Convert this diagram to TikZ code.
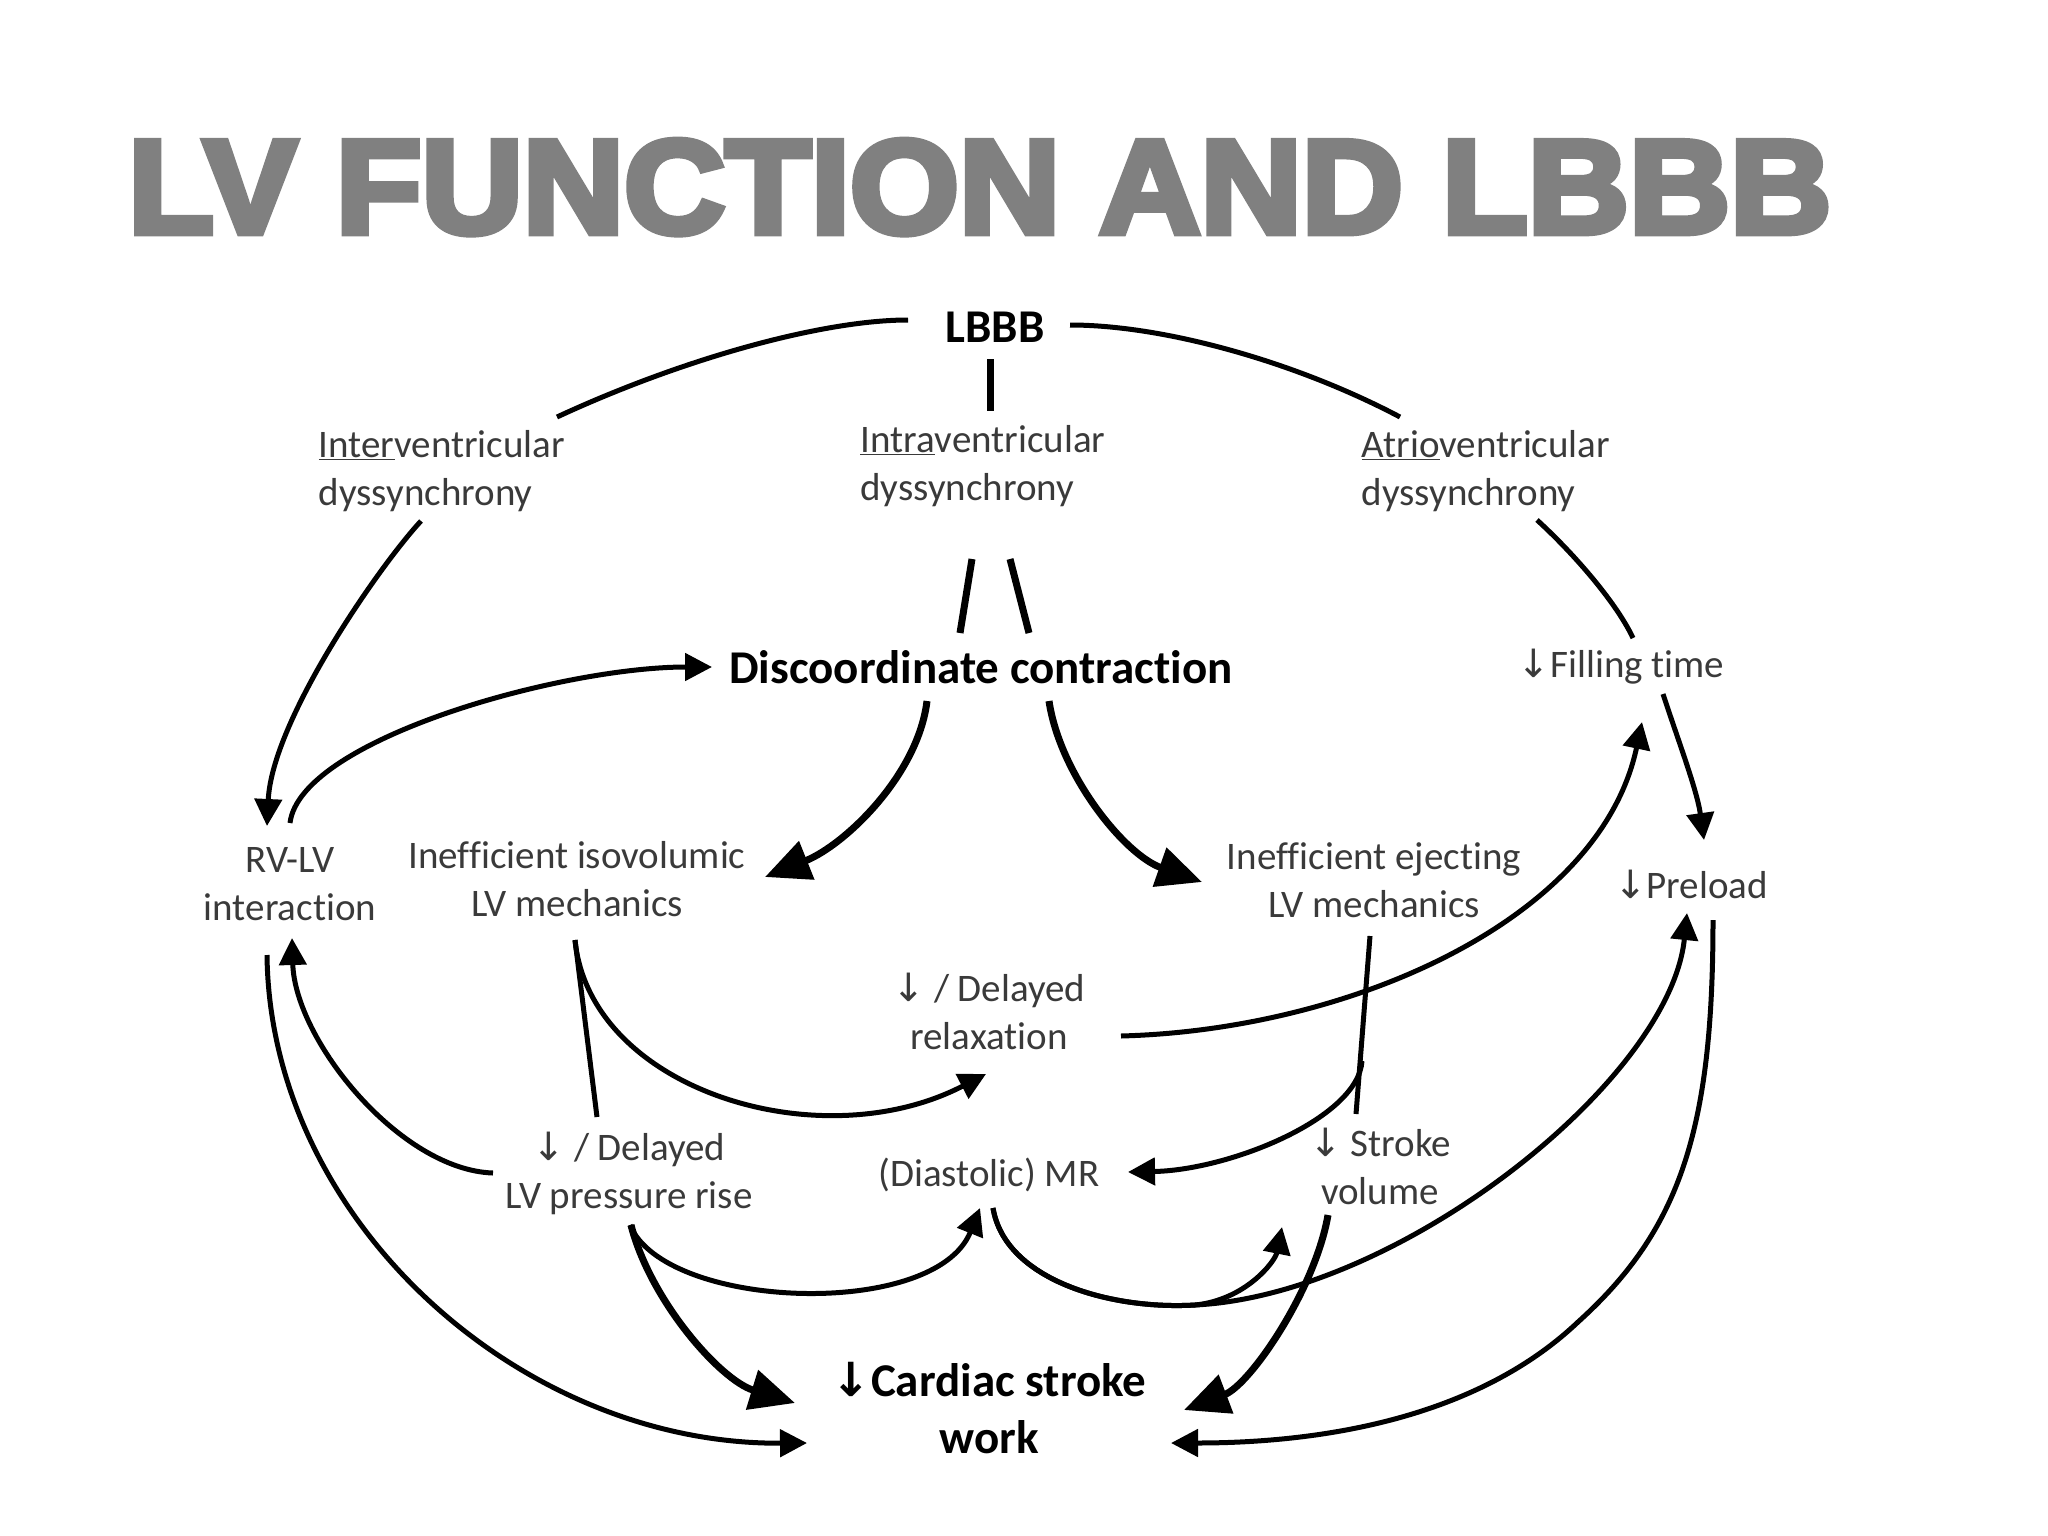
\documentclass[tikz,border=0pt]{standalone}
\usepackage{fontspec}
\usepackage{graphicx}
\setmainfont{Carlito}[RawFeature={-liga;-clig;-dlig;-calt}]
\newfontfamily\arrf{DejaVu Sans}
\newfontfamily\titlef{Liberation Sans}[BoldFeatures={FakeBold=5}]
\usetikzlibrary{arrows.meta,calc}
\definecolor{txtgray}{HTML}{3A3A3A}
\definecolor{titlegray}{HTML}{808080}
\newcommand\fsN{\fontsize{39}{48}\selectfont}
\newcommand\fsB{\fontsize{47}{57}\selectfont\bfseries}
\newcommand\dnar{{\arrf ↓}}
\tikzset{
  lbl/.style={font=\fsN, text=txtgray, inner sep=0pt, align=center},
  lbll/.style={font=\fsN, text=txtgray, inner sep=0pt, align=left},
  blbl/.style={font=\fsB, text=black, inner sep=0pt, align=center},
  ln/.style={line width=5pt, black},
  tln/.style={line width=7pt, black},
  arr/.style={ln, -{Triangle[length=27pt,width=27pt]}},
  bigarr/.style={tln, -{Triangle[length=45pt,width=40pt]}},
}
\begin{document}
\begin{tikzpicture}[x=1pt,y=-1pt]
\useasboundingbox (0,0) rectangle (2048,1536);
\fill[white] (0,0) rectangle (2048,1536);
% title
\node[anchor=base west, inner sep=0pt, text=titlegray] (title) at (128,233)
  {\resizebox{1702pt}{93pt}{\titlef\bfseries LV FUNCTION AND LBBB}};
% nodes
\node[blbl] (lbbb) at (995,327) {LBBB};
\node[lbll] (inter) at (442,471) {\underline{Inter}ventricular\\dyssynchrony};
\node[lbll] (intra) at (983,466) {\underline{Intra}ventricular\\dyssynchrony};
\node[lbll] (atrio) at (1486,471) {\underline{Atrio}ventricular\\dyssynchrony};
\node[blbl] (disc) at (981,667) {Discoordinate contraction};
\node[lbl] (fill) at (1621,667) {\dnar Filling time};
\node[lbl] (rvlv) at (290,884) {RV-LV\\interaction};
\node[lbl] (iso) at (577,879) {Inefficient isovolumic\\LV mechanics};
\node[lbl] (eje) at (1374,880) {Inefficient ejecting\\LV mechanics};
\node[lbl] (pre) at (1691,884) {\dnar Preload};
\node[lbl] (relax) at (989,1011) {\dnar{} / Delayed\\relaxation};
\node[lbl] (press) at (629,1173) {\dnar{} / Delayed\\LV pressure rise};
\node[lbl] (mr) at (989,1175) {(Diastolic) MR};
\node[lbl] (sv) at (1380,1166) {\dnar{} Stroke\\volume};
\node[blbl] (csw) at (989,1408) {\dnar Cardiac stroke\\work};
% connectors
\draw[ln] ($(lbbb)+(-87,-7)$) .. controls (822,320) and (682,359) .. ($(inter)+(115,-54)$);
\draw[ln] ($(lbbb)+(75,-2)$) .. controls (1164,325) and (1296,362) .. ($(atrio)+(-86,-54)$);
\draw[tln] ($(lbbb)+(-5,32)$) -- ($(intra)+(7,-55)$);
\draw[tln] ($(intra)+(-11,93)$) -- ($(disc)+(-21,-34)$);
\draw[tln] ($(intra)+(27,93)$) -- ($(disc)+(48,-34)$);
\draw[arr] ($(inter)+(-21,50)$) .. controls (380,565) and (272,720) .. ($(rvlv)+(-23,-58)$);
\draw[arr] ($(rvlv)+(0,-61)$) .. controls (300,740) and (560,667) .. ($(disc)+(-269,0)$);
\draw[ln] ($(atrio)+(51,49)$) .. controls (1570,550) and (1615,600) .. ($(fill)+(12,-29)$);
\draw[arr] ($(fill)+(42,27)$) .. controls (1678,740) and (1697,790) .. ($(pre)+(13,-44)$);
\draw[bigarr] ($(disc)+(-54,34)$) .. controls (918,775) and (845,845) .. ($(iso)+(188,-2)$);
\draw[bigarr] ($(disc)+(68,34)$) .. controls (1060,775) and (1125,855) .. ($(eje)+(-172,2)$);
\draw[arr] ($(relax)+(132,25)$) .. controls (1350,1030) and (1600,920) .. ($(fill)+(21,55)$);
\draw[arr] ($(iso)+(-2,61)$) .. controls (590,1090) and (820,1160) .. ($(relax)+(-3,63)$);
\draw[ln] ($(iso)+(-2,61)$) -- ($(press)+(-32,-56)$);
\draw[arr] ($(press)+(-136,0)$) .. controls (400,1170) and (295,1040) .. ($(rvlv)+(2,54)$);
\draw[arr] ($(rvlv)+(-23,71)$) .. controls (270,1220) and (520,1445) .. ($(csw)+(-182,35)$);
\draw[bigarr] ($(press)+(2,52)$) .. controls (650,1300) and (720,1380) .. ($(csw)+(-194,-5)$);
\draw[arr] ($(press)+(1,52)$) .. controls (665,1310) and (935,1320) .. ($(mr)+(-9,33)$);
\draw[ln] ($(eje)+(-4,56)$) -- ($(sv)+(-24,-52)$);
\coordinate (ejfork) at ($(eje)+(-12,181)$);
\draw[arr] (ejfork) .. controls (1358,1118) and (1230,1170) .. ($(mr)+(139,-3)$);
\draw[bigarr] ($(sv)+(-52,49)$) .. controls (1315,1290) and (1250,1385) .. ($(csw)+(195,2)$);
\draw[arr] ($(mr)+(4,33)$) .. controls (1005,1280) and (1110,1310) .. (1195,1305)
  .. controls (1245,1300) and (1275,1262) .. ($(sv)+(-98,61)$);
\draw[arr] ($(mr)+(4,33)$) .. controls (1005,1280) and (1110,1310) .. (1195,1305)
  .. controls (1400,1295) and (1670,1080) .. ($(pre)+(-4,29)$);
\draw[arr] ($(pre)+(22,36)$) .. controls (1713,1130) and (1680,1230) .. (1578,1322)
  .. controls (1480,1415) and (1330,1443) .. ($(csw)+(182,35)$);
\end{tikzpicture}
\end{document}
